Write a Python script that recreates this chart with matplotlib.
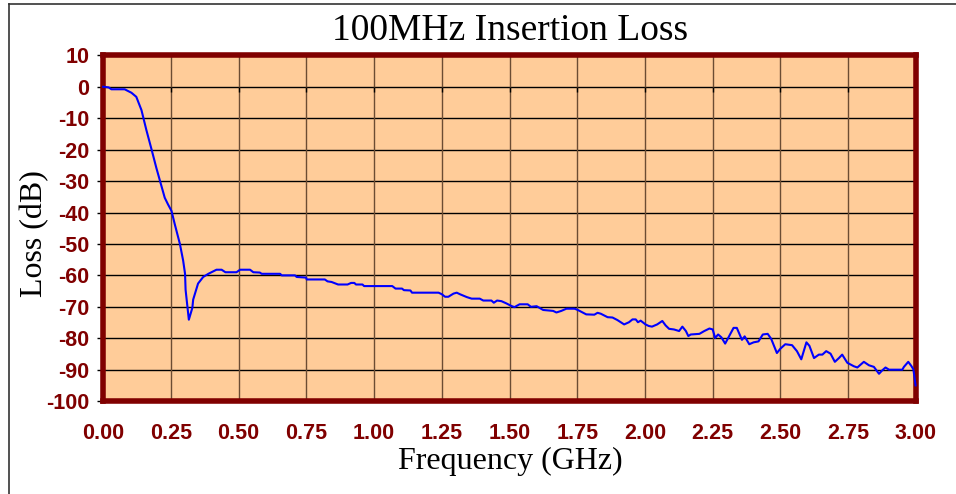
import numpy as np
import matplotlib
matplotlib.use("Agg")
import matplotlib.pyplot as plt
from matplotlib.lines import Line2D

plt.rcParams["axes.unicode_minus"] = False

# Insertion loss trace (GHz, dB)
freq_ghz = [
    0.000, 0.020, 0.030, 0.079, 0.104, 0.122, 0.141, 0.159, 0.177, 0.196,
    0.215, 0.227, 0.239, 0.252, 0.264, 0.283, 0.295, 0.302, 0.304, 0.316,
    0.329, 0.332, 0.350, 0.369, 0.388, 0.418, 0.437, 0.451, 0.492, 0.505,
    0.542, 0.554, 0.578, 0.585, 0.653, 0.659, 0.708, 0.714, 0.749, 0.751,
    0.818, 0.828, 0.843, 0.867, 0.902, 0.915, 0.927, 0.933, 0.957, 0.963,
    1.067, 1.079, 1.103, 1.110, 1.134, 1.140, 1.238, 1.250, 1.262, 1.274,
    1.293, 1.305, 1.317, 1.342, 1.360, 1.390, 1.403, 1.433, 1.442, 1.454,
    1.470, 1.488, 1.506, 1.518, 1.537, 1.567, 1.579, 1.600, 1.624, 1.661,
    1.673, 1.691, 1.710, 1.740, 1.752, 1.783, 1.813, 1.825, 1.837, 1.862,
    1.880, 1.898, 1.923, 1.941, 1.954, 1.966, 1.974, 1.984, 2.002, 2.014,
    2.026, 2.045, 2.064, 2.076, 2.089, 2.107, 2.126, 2.138, 2.151, 2.160,
    2.169, 2.201, 2.219, 2.238, 2.250, 2.259, 2.270, 2.282, 2.296, 2.315,
    2.327, 2.339, 2.358, 2.368, 2.385, 2.401, 2.419, 2.435, 2.453, 2.466,
    2.487, 2.500, 2.518, 2.543, 2.561, 2.577, 2.586, 2.596, 2.607, 2.624,
    2.642, 2.655, 2.669, 2.685, 2.701, 2.716, 2.728, 2.747, 2.771, 2.784,
    2.808, 2.827, 2.845, 2.864, 2.876, 2.888, 2.901, 2.950, 2.956, 2.972,
    2.984, 2.991, 2.999,
]
loss_db = [
    0.0, -0.2, -0.8, -0.8, -1.9, -3.2, -7.4, -13.7, -19.5, -25.8,
    -31.6, -35.3, -37.4, -39.5, -43.7, -50.0, -55.3, -59.5, -64.6, -74.1,
    -70.3, -67.7, -62.6, -60.5, -59.5, -58.2, -58.2, -59.0, -59.0, -58.2,
    -58.2, -59.0, -59.1, -59.5, -59.5, -60.0, -60.0, -60.5, -60.7, -61.3,
    -61.3, -61.9, -62.1, -62.9, -62.9, -62.4, -62.4, -62.9, -62.9, -63.4,
    -63.4, -64.2, -64.2, -64.7, -64.8, -65.5, -65.5, -66.0, -66.8, -66.8,
    -65.8, -65.5, -66.0, -66.9, -67.4, -67.4, -68.0, -68.0, -68.7, -68.0,
    -68.2, -68.9, -69.7, -70.1, -69.2, -69.2, -70.0, -69.8, -71.0, -71.3,
    -71.8, -71.3, -70.6, -70.6, -71.0, -72.4, -72.5, -71.9, -72.2, -73.3,
    -73.4, -74.2, -75.6, -74.9, -74.0, -74.0, -74.9, -74.4, -75.6, -76.1,
    -76.3, -75.6, -74.5, -75.9, -77.0, -77.2, -77.7, -76.3, -77.7, -79.3,
    -78.8, -78.6, -77.7, -76.9, -77.2, -79.9, -78.8, -79.7, -81.7, -78.6,
    -76.7, -76.7, -80.5, -79.4, -81.9, -81.3, -81.0, -78.8, -78.6, -80.2,
    -84.7, -83.3, -81.9, -82.2, -84.1, -86.7, -84.1, -81.3, -82.4, -86.3,
    -85.2, -85.2, -84.1, -84.9, -87.5, -86.3, -85.2, -87.8, -88.9, -89.3,
    -87.5, -88.6, -89.1, -91.3, -90.2, -89.3, -90.0, -90.0, -89.1, -87.5,
    -88.9, -89.9, -95.0,
]

x_ticks = np.arange(0, 3.01, 0.25)
y_ticks = np.arange(-100, 11, 10)

maroon = "#800000"

fig = plt.figure(figsize=(9.56, 4.94), dpi=100)
ax = fig.add_axes([0.108, 0.188, 0.850, 0.700])
ax.set_facecolor("#FFCC99")

ax.set_xlim(0, 3)
ax.set_ylim(-100, 10)
ax.set_xticks(x_ticks)
ax.set_yticks(y_ticks)
ax.set_xticklabels([f"{v:.2f}" for v in x_ticks])

for v in y_ticks[1:-1]:
    ax.axhline(v, color="black", lw=1.0, zorder=1)
for v in x_ticks[1:-1]:
    ax.axvline(v, color="#6B4C33", lw=1.0, zorder=1)
# small tick marks on the zero line (category axis crossing)
ax.vlines(x_ticks[1:-1], -1.6, 0, color="black", lw=1.0, zorder=1)

ax.plot(freq_ghz, loss_db, color="#0000FF", lw=1.5, zorder=5, clip_on=False)

for s in ax.spines.values():
    s.set_color(maroon)
    s.set_linewidth(4)
    s.set_zorder(4)

ax.tick_params(axis="x", length=0, pad=16, labelcolor=maroon)
ax.tick_params(axis="y", length=4, width=1, color="black", direction="out",
               pad=6, labelcolor=maroon)
for lab in ax.get_xticklabels() + ax.get_yticklabels():
    lab.set_fontfamily("Liberation Sans")
    lab.set_fontweight("bold")
    lab.set_fontsize(15.5)

fig.text(0.534, 0.938, "100MHz Insertion Loss", ha="center", va="center",
         fontfamily="Liberation Serif", fontsize=27)
fig.text(0.534, 0.065, "Frequency (GHz)", ha="center", va="center",
         fontfamily="Liberation Serif", fontsize=23)
fig.text(0.036, 0.528, "Loss (dB)", ha="center", va="center", rotation=90,
         fontfamily="Liberation Serif", fontsize=23)

# thin outer frame (top and left edges visible in the reference)
fig.add_artist(Line2D([0.0095, 1.0], [0.991, 0.991], transform=fig.transFigure,
                      color="#333333", lw=1.2))
fig.add_artist(Line2D([0.0095, 0.0095], [0.0, 0.991], transform=fig.transFigure,
                      color="#333333", lw=1.2))

fig.savefig("out.png", dpi=100)
